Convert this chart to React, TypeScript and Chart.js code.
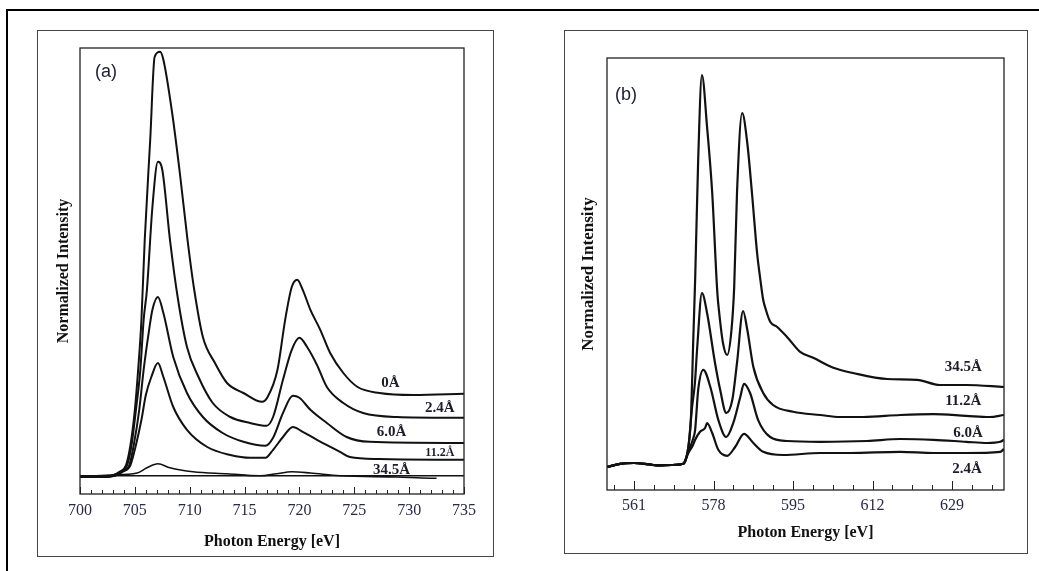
import React, { useEffect, useRef } from 'react';
import { Chart, registerables } from 'chart.js';
Chart.register(...registerables);

// ---------- Panel (a): Fe L-edge, 700–735 eV ----------
const energyA_0 = [700, 701.8, 702.9, 703.6, 704.2, 704.6, 705.0, 705.3, 705.6, 705.9, 706.4, 706.8, 707.3, 707.6, 708.4, 709.1, 709.8, 710.4, 711.2, 712.3, 713.4, 714.9, 716.6, 717.1, 718.0, 718.7, 719.3, 719.8, 720.3, 721.0, 721.9, 722.8, 724.0, 725.3, 727.3, 730.4, 735];
const intensityA_0 = [0, 0, 0.03, 0.13, 0.3, 0.8, 1.68, 2.68, 3.93, 5.93, 8.43, 10.5, 10.63, 10.43, 9.1, 7.6, 5.93, 4.7, 3.5, 2.85, 2.35, 2.1, 1.88, 2.0, 2.68, 3.93, 4.75, 4.93, 4.68, 4.18, 3.68, 3.1, 2.6, 2.25, 2.1, 2.05, 2.08];

const energyA_24 = [700, 701.8, 702.9, 703.7, 704.3, 704.7, 705.1, 705.5, 705.8, 706.1, 706.6, 707.1, 707.5, 708.2, 708.9, 709.75, 710.8, 712.1, 713.7, 715.5, 717.0, 717.6, 718.5, 719.3, 720.0, 720.7, 721.6, 722.5, 724.0, 725.8, 728.9, 735];
const intensityA_24 = [0, 0, 0.03, 0.13, 0.3, 0.8, 1.68, 2.68, 3.93, 4.68, 6.75, 7.88, 7.68, 5.93, 4.5, 3.25, 2.5, 1.85, 1.5, 1.35, 1.28, 1.5, 2.43, 3.18, 3.48, 3.25, 2.8, 2.25, 1.85, 1.6, 1.5, 1.48];

const energyA_60 = [700, 701.8, 703.1, 703.8, 704.5, 704.9, 705.4, 705.8, 706.3, 706.6, 707.1, 707.6, 708.5, 709.75, 711.2, 713.0, 714.9, 716.9, 717.6, 718.5, 719.4, 720.0, 721.0, 722.5, 724.3, 726.4, 735];
const intensityA_60 = [0, 0, 0.03, 0.13, 0.3, 0.8, 1.68, 2.68, 3.68, 4.18, 4.5, 4.1, 3.0, 2.1, 1.5, 1.1, 0.88, 0.78, 0.98, 1.6, 2.03, 1.98, 1.68, 1.35, 1.0, 0.88, 0.85];

const energyA_112 = [700, 701.8, 703.2, 703.9, 704.6, 705.1, 705.6, 706.0, 706.5, 707.1, 707.6, 708.5, 709.75, 711.6, 713.7, 715.5, 716.9, 717.6, 718.5, 719.4, 720.3, 721.6, 723.7, 724.6, 727.3, 735];
const intensityA_112 = [0, 0, 0.03, 0.13, 0.3, 0.8, 1.43, 2.05, 2.5, 2.85, 2.5, 1.75, 1.18, 0.75, 0.55, 0.48, 0.48, 0.68, 1.0, 1.25, 1.13, 0.93, 0.63, 0.5, 0.45, 0.43];

const energyA_345 = [700, 702.7, 705.2, 706.1, 707.1, 708.2, 710.3, 713.4, 716.4, 717.9, 719.3, 721.0, 723.7, 728.9, 731.9, 732.5];
const intensityA_345 = [0, 0.05, 0.1, 0.23, 0.33, 0.23, 0.13, 0.08, 0.03, 0.08, 0.13, 0.1, 0.03, 0.0, -0.03, -0.03];

const baselineA_E = [700, 735];
const baselineA_I = [0.03, 0.03];

const majorTicksA = [700, 705, 710, 715, 720, 725, 730, 735];
const minorTicksA = [701, 702, 703, 704, 706, 707, 708, 709, 711, 712, 713, 714, 716, 717, 718, 719, 721, 722, 723, 724, 726, 727, 728, 729, 731, 732, 733, 734];

const labelTextA = ['0Å', '2.4Å', '6.0Å', '11.2Å', '34.5Å'];
const labelXA = [728.3, 732.8, 728.4, 732.8, 728.4];
const labelYA = [2.35, 1.73, 1.13, 0.6, 0.18];
const labelSizeA = [15, 15, 15, 12, 15];

// ---------- Panel (b): Mn L-edge, 555–640 eV ----------
const energyB_345 = [555.2, 558.0, 560.8, 563.5, 565.9, 569.0, 571.5, 572.6, 573.2, 573.6, 574.05, 574.7, 575.5, 576.6, 577.7, 578.8, 579.2, 580.0, 580.9, 581.8, 582.4, 583.0, 584.1, 585.2, 586.2, 587.3, 588.0, 588.6, 589.0, 590.1, 591.6, 593.7, 596.5, 599.3, 603.6, 607.8, 615.1, 621.5, 626.4, 632.0, 640.1];
const intensityB_345 = [0, 0.08, 0.1, 0.07, 0.04, 0.05, 0.08, 0.5, 1.35, 3.0, 4.68, 7.68, 9.8, 8.5, 6.85, 4.35, 3.85, 3.1, 2.8, 3.4, 4.5, 6.85, 8.85, 8.1, 6.85, 5.35, 4.68, 4.18, 4.0, 3.63, 3.5, 3.25, 2.88, 2.73, 2.48, 2.35, 2.2, 2.18, 2.05, 2.05, 2.0];

const energyB_112 = [555.2, 558, 561, 564, 566, 569, 571.5, 572.6, 573.4, 574.0, 574.5, 575.5, 576.6, 578.3, 579.4, 580.7, 582.0, 583.0, 584.3, 585.2, 586.5, 588.6, 590.7, 595.0, 600.8, 605, 610, 617.9, 625, 632, 637, 640.1];
const intensityB_112 = [0, 0.08, 0.1, 0.07, 0.04, 0.05, 0.08, 0.5, 1.5, 2.1, 3.0, 4.35, 3.85, 2.6, 1.93, 1.35, 1.68, 2.6, 3.9, 3.43, 2.5, 1.85, 1.55, 1.38, 1.3, 1.25, 1.25, 1.3, 1.32, 1.28, 1.25, 1.3];

const energyB_60 = [555.2, 558, 561, 564, 566, 569, 571.5, 572.6, 573.6, 574.05, 574.7, 575.8, 577.3, 579.0, 580.7, 582.2, 583.7, 584.5, 585.8, 587.5, 590.1, 593.7, 600.8, 610.8, 617.9, 625, 632, 636.5, 639.3, 640.1];
const intensityB_60 = [0, 0.08, 0.1, 0.07, 0.04, 0.05, 0.08, 0.4, 0.7, 0.93, 1.93, 2.43, 2.0, 1.18, 0.75, 1.1, 1.75, 2.08, 1.85, 1.18, 0.75, 0.65, 0.63, 0.65, 0.7, 0.68, 0.63, 0.6, 0.63, 0.68];

const energyB_24 = [555.2, 558, 561, 564, 566, 569, 571.5, 572.6, 573.6, 574.05, 575.1, 576.2, 576.6, 577.7, 579.0, 580.9, 582.6, 584.5, 586.5, 588.6, 592.9, 600.8, 607.2, 617.9, 625, 632, 639.3, 640.1];
const intensityB_24 = [0, 0.08, 0.1, 0.07, 0.04, 0.05, 0.08, 0.35, 0.55, 0.68, 0.88, 0.98, 1.1, 0.85, 0.43, 0.28, 0.5, 0.83, 0.6, 0.38, 0.3, 0.35, 0.35, 0.38, 0.35, 0.35, 0.38, 0.45];

const majorTicksB = [561, 578, 595, 612, 629];
const minorTicksB = [556.75, 565.25, 569.5, 573.75, 582.25, 586.5, 590.75, 599.25, 603.5, 607.75, 616.25, 620.5, 624.75, 633.25, 637.5];

const labelTextB = ['34.5Å', '11.2Å', '6.0Å', '2.4Å'];
const labelXB = [631.4, 631.4, 632.4, 632.2];
const labelYB = [2.5, 1.65, 0.85, -0.05];
const labelSizeB = [15, 15, 15, 15];

const SERIF = '"Liberation Serif", "Times New Roman", Times, serif';
const SANS = '"Liberation Sans", Arial, Helvetica, sans-serif';

type PanelSpec = {
  width: number;
  height: number;
  xMin: number;
  xMax: number;
  yMin: number;
  yMax: number;
  series: { e: number[]; i: number[]; w: number }[];
  major: number[];
  minor: number[];
  majorLen: number;
  minorLen: number;
  labelText: string[];
  labelX: number[];
  labelY: number[];
  labelSize: number[];
  tag: string;
  tagDx: number;
  tagDy: number;
  padding: { left: number; top: number; right: number; bottom: number };
  tickPad: number;
  xTitlePad: { top: number; bottom: number };
  yTitleSize: number;
  yTitlePad: { top: number; bottom: number };
};

function buildChart(canvas: HTMLCanvasElement, p: PanelSpec) {
  const allTicks = [...p.major, ...p.minor].sort((a, b) => a - b);
  const decor = {
    id: 'decor' + p.tag,
    afterDatasetsDraw(chart: any) {
      const { ctx, chartArea: ca, scales } = chart;
      const xs = scales.x;
      const ys = scales.y;
      ctx.save();
      ctx.strokeStyle = '#222';
      ctx.lineWidth = 1.3;
      ctx.strokeRect(ca.left, ca.top, ca.right - ca.left, ca.bottom - ca.top);
      ctx.lineWidth = 1;
      ctx.beginPath();
      for (const v of p.major) {
        const px = Math.round(xs.getPixelForValue(v)) + 0.5;
        ctx.moveTo(px, ca.bottom);
        ctx.lineTo(px, ca.bottom - p.majorLen);
      }
      for (const v of p.minor) {
        const px = Math.round(xs.getPixelForValue(v)) + 0.5;
        ctx.moveTo(px, ca.bottom);
        ctx.lineTo(px, ca.bottom - p.minorLen);
      }
      ctx.stroke();
      ctx.fillStyle = '#1c1c2c';
      ctx.textAlign = 'center';
      ctx.textBaseline = 'middle';
      p.labelText.forEach((t, k) => {
        ctx.font = `bold ${p.labelSize[k]}px ${SERIF}`;
        ctx.fillText(t, xs.getPixelForValue(p.labelX[k]), ys.getPixelForValue(p.labelY[k]));
      });
      ctx.font = `18px ${SANS}`;
      ctx.fillStyle = '#20203a';
      ctx.fillText(p.tag, ca.left + p.tagDx, ca.top + p.tagDy);
      ctx.restore();
    },
  };

  return new Chart(canvas, {
    type: 'line',
    data: {
      datasets: p.series.map((s) => ({
        data: s.e.map((x, k) => ({ x, y: s.i[k] })),
        borderColor: '#111',
        borderWidth: s.w,
        pointRadius: 0,
        fill: false,
        cubicInterpolationMode: 'monotone' as const,
      })),
    },
    options: {
      animation: false,
      responsive: false,
      maintainAspectRatio: false,
      events: [],
      layout: { padding: p.padding },
      plugins: { legend: { display: false }, tooltip: { enabled: false } },
      scales: {
        x: {
          type: 'linear',
          min: p.xMin,
          max: p.xMax,
          afterBuildTicks: (axis: any) => {
            axis.ticks = allTicks.map((v) => ({ value: v }));
          },
          ticks: {
            autoSkip: false,
            maxRotation: 0,
            minRotation: 0,
            padding: p.tickPad,
            color: '#2a2a48',
            font: { family: SERIF, size: 16 },
            callback: (v: any) => (p.major.includes(Number(v)) ? String(v) : ''),
          },
          grid: { display: false, drawTicks: false, tickLength: 0 },
          border: { display: false },
          title: {
            display: true,
            text: 'Photon Energy [eV]',
            color: '#111',
            font: { family: SERIF, size: 16, weight: 'bold' },
            padding: p.xTitlePad,
          },
        },
        y: {
          type: 'linear',
          min: p.yMin,
          max: p.yMax,
          ticks: { display: false },
          grid: { display: false, drawTicks: false, tickLength: 0 },
          border: { display: false },
          title: {
            display: true,
            text: 'Normalized Intensity',
            color: '#111',
            font: { family: SERIF, size: p.yTitleSize, weight: 'bold' },
            padding: p.yTitlePad,
          },
        },
      },
    },
    plugins: [decor],
  } as any);
}

const panelA: PanelSpec = {
  width: 455,
  height: 525,
  xMin: 700,
  xMax: 735,
  yMin: -0.425,
  yMax: 10.725,
  series: [
    { e: baselineA_E, i: baselineA_I, w: 1.4 },
    { e: energyA_0, i: intensityA_0, w: 2 },
    { e: energyA_24, i: intensityA_24, w: 2 },
    { e: energyA_60, i: intensityA_60, w: 2 },
    { e: energyA_112, i: intensityA_112, w: 2 },
    { e: energyA_345, i: intensityA_345, w: 1.6 },
  ],
  major: majorTicksA,
  minor: minorTicksA,
  majorLen: 7,
  minorLen: 4,
  labelText: labelTextA,
  labelX: labelXA,
  labelY: labelYA,
  labelSize: labelSizeA,
  tag: '(a)',
  tagDx: 26,
  tagDy: 24,
  padding: { left: 11.8, top: 17, right: 29, bottom: 0 },
  tickPad: 7.4,
  xTitlePad: { top: 4.4, bottom: 4.4 },
  yTitleSize: 16,
  yTitlePad: { top: 4, bottom: 7 },
};

const panelB: PanelSpec = {
  width: 462,
  height: 522,
  xMin: 555.2,
  xMax: 640.1,
  yMin: -0.575,
  yMax: 10.225,
  series: [
    { e: energyB_345, i: intensityB_345, w: 2.2 },
    { e: energyB_112, i: intensityB_112, w: 2.2 },
    { e: energyB_60, i: intensityB_60, w: 2.2 },
    { e: energyB_24, i: intensityB_24, w: 2.2 },
  ],
  major: majorTicksB,
  minor: minorTicksB,
  majorLen: 9,
  minorLen: 5,
  labelText: labelTextB,
  labelX: labelXB,
  labelY: labelYB,
  labelSize: labelSizeB,
  tag: '(b)',
  tagDx: 19,
  tagDy: 37,
  padding: { left: 9.8, top: 27, right: 23, bottom: 0 },
  tickPad: 6.4,
  xTitlePad: { top: 1.4, bottom: 10.4 },
  yTitleSize: 17,
  yTitlePad: { top: 4, bottom: 7.8 },
};

function Panel({ spec, left, top }: { spec: PanelSpec; left: number; top: number }) {
  const ref = useRef<HTMLCanvasElement | null>(null);
  useEffect(() => {
    if (!ref.current) return;
    const chart = buildChart(ref.current, spec);
    return () => chart.destroy();
  }, [spec]);
  return (
    <div
      style={{
        position: 'absolute',
        left,
        top,
        width: spec.width,
        height: spec.height,
        border: '1px solid #444',
        background: '#fff',
      }}
    >
      <canvas ref={ref} width={spec.width} height={spec.height} style={{ display: 'block' }} />
    </div>
  );
}

export default function App() {
  return (
    <div
      style={{
        position: 'fixed',
        left: 0,
        top: 0,
        width: 1039,
        height: 571,
        overflow: 'hidden',
        background: '#fff',
      }}
    >
      <div
        style={{
          position: 'absolute',
          left: 6,
          top: 9,
          width: 1100,
          height: 700,
          borderTop: '2px solid #000',
          borderLeft: '2px solid #000',
        }}
      />
      <Panel spec={panelA} left={37} top={30} />
      <Panel spec={panelB} left={564} top={30} />
    </div>
  );
}
